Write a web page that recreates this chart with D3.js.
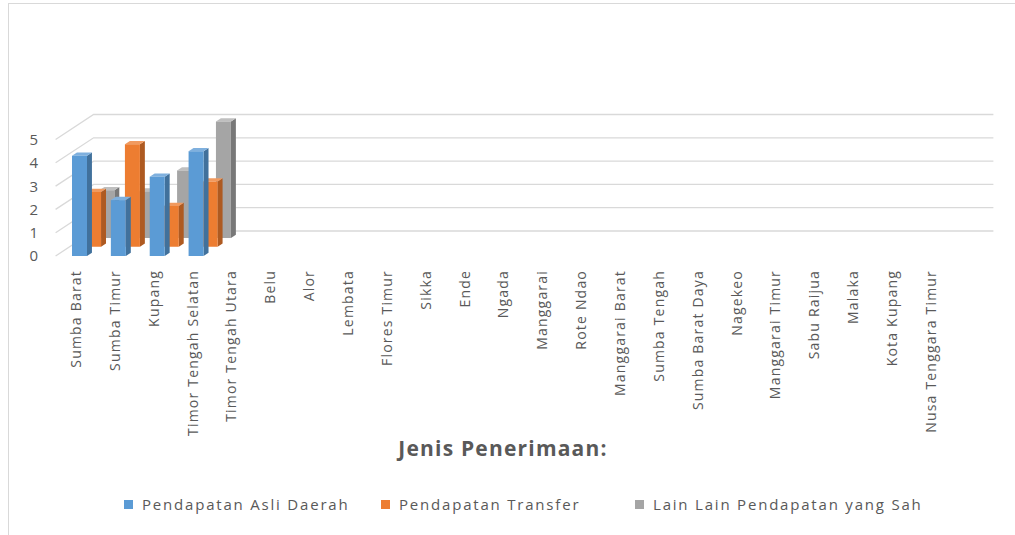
<!DOCTYPE html>
<html>
<head>
<meta charset="utf-8">
<script src="https://cdn.jsdelivr.net/npm/d3@7"></script>
<style>
  body { margin: 0; background: #fff; }
  text { font-family: "Open Sans", sans-serif; fill: #595959; }
</style>
</head>
<body>
<svg id="chart" width="1015" height="535"></svg>
<script>
const categories = [
  "Sumba Barat", "Sumba Timur", "Kupang", "Timor Tengah Selatan", "Timor Tengah Utara",
  "Belu", "Alor", "Lembata", "Flores Timur", "Sikka", "Ende", "Ngada", "Manggarai",
  "Rote Ndao", "Manggarai Barat", "Sumba Tengah", "Sumba Barat Daya", "Nagekeo",
  "Manggarai Timur", "Sabu Raijua", "Malaka", "Kota Kupang", "Nusa Tenggara Timur"
];

const asliDaerah = [4.3, 2.4, 3.4, 4.5, null, null, null, null, null, null, null, null,
  null, null, null, null, null, null, null, null, null, null, null];
const transfer = [2.35, 4.4, 1.75, 2.8, null, null, null, null, null, null, null, null,
  null, null, null, null, null, null, null, null, null, null, null];
const lainLain = [2.05, 2.0, 2.9, 5.0, null, null, null, null, null, null, null, null,
  null, null, null, null, null, null, null, null, null, null, null];

const seriesNames = ["Pendapatan Asli Daerah", "Pendapatan Transfer", "Lain Lain Pendapatan yang Sah"];
const yTicks = [0, 1, 2, 3, 4, 5];

const series = [
  { name: seriesNames[0], values: asliDaerah, depth: 0,    front: "#5b9bd5", side: "#41719c", top: "#7fb0de" },
  { name: seriesNames[1], values: transfer,   depth: 0.37, front: "#ed7d31", side: "#ae5a21", top: "#f19a5f" },
  { name: seriesNames[2], values: lainLain,   depth: 0.72, front: "#a5a5a5", side: "#787878", top: "#bfbfbf" }
];

// oblique depth offset of the floor
const DX = 38, DY = 25;
const barDepth = 0.13;
const barWidth = 15;

const xScale = d3.scaleBand().domain(categories).range([56.6, 950.4]);
const yScale = d3.scaleLinear().domain([0, 5]).range([256, 139.5]);

const P = (x, v, d) => [x + d * DX, yScale(v) - d * DY];

const svg = d3.select("#chart");

svg.append("rect")
  .attr("x", 8.5).attr("y", 3.5)
  .attr("width", 1030).attr("height", 545)
  .attr("fill", "none")
  .attr("stroke", "#d9d9d9");

// side wall diagonals + back wall gridlines
const x0 = xScale.range()[0], x1 = xScale.range()[1];
yTicks.forEach(t => {
  const a = P(x0 - 1, t, 0), b = P(x0 - 1, t, 1), c = P(x1 + 5, t, 1);
  svg.append("path")
    .attr("d", d3.line()([a, b, c]))
    .attr("fill", "none")
    .attr("stroke", "#d9d9d9")
    .attr("stroke-width", 1.3);
});

// y axis labels
svg.append("g")
  .selectAll("text")
  .data(yTicks)
  .join("text")
  .attr("x", 38)
  .attr("y", d => yScale(d))
  .attr("dy", "0.36em")
  .attr("text-anchor", "end")
  .attr("font-size", 15)
  .text(d => d);

// bars: back row first
const poly = pts => "M" + pts.map(p => p.join(",")).join("L") + "Z";

series.slice().reverse().forEach(s => {
  const g = svg.append("g");
  s.values.forEach((v, i) => {
    if (v == null) return;
    const xa = xScale(categories[i]) + 15.4;
    const xb = xa + barWidth;
    const d = s.depth, e = s.depth + barDepth;
    g.append("path")
      .attr("d", poly([P(xb, 0, d), P(xb, 0, e), P(xb, v, e), P(xb, v, d)]))
      .attr("fill", s.side);
    g.append("path")
      .attr("d", poly([P(xa, v, d), P(xb, v, d), P(xb, v, e), P(xa, v, e)]))
      .attr("fill", s.top);
    g.append("path")
      .attr("d", poly([P(xa, 0, d), P(xb, 0, d), P(xb, v, d), P(xa, v, d)]))
      .attr("fill", s.front);
  });
});

// category labels
svg.append("g")
  .selectAll("text")
  .data(categories)
  .join("text")
  .attr("transform", d => `translate(${xScale(d) + xScale.bandwidth() / 2},270) rotate(-90)`)
  .attr("dy", "0.35em")
  .attr("text-anchor", "end")
  .attr("font-size", 14)
  .attr("letter-spacing", 1.2)
  .text(d => d);

// axis title
svg.append("text")
  .attr("x", 503)
  .attr("y", 456)
  .attr("text-anchor", "middle")
  .attr("font-size", 21)
  .attr("font-weight", "bold")
  .attr("letter-spacing", 1.2)
  .text("Jenis Penerimaan:");

// legend
const legendX = [124, 381, 635];
const legend = svg.append("g")
  .selectAll("g")
  .data(series)
  .join("g")
  .attr("transform", (d, i) => `translate(${legendX[i]},500)`);

legend.append("rect")
  .attr("width", 9).attr("height", 9)
  .attr("fill", d => d.front);

legend.append("text")
  .attr("x", 18)
  .attr("y", 9.5)
  .attr("font-size", 15)
  .attr("letter-spacing", 1.8)
  .text(d => d.name);
</script>
</body>
</html>
